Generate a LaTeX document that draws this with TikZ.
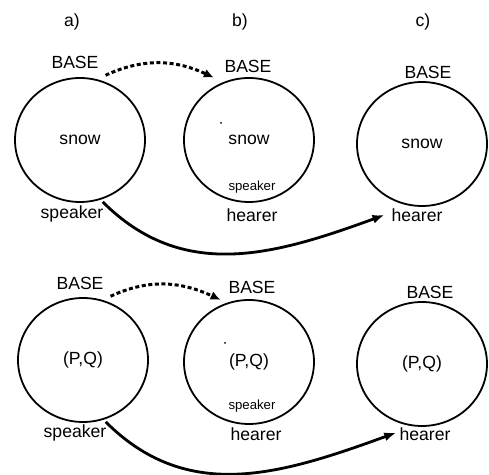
\documentclass[tikz,border=0pt]{standalone}
\usepackage{fontspec}
\setmainfont{Liberation Sans}
\usepackage{tikz}
\usetikzlibrary{arrows.meta, shapes, positioning}
\tikzset{
    contextnode/.style = {draw, ellipse, line width=0.9pt, inner sep = 0em, node distance=0em,
      minimum width=65pt, minimum height=62pt, font=\fontsize{8.8}{10}\selectfont},
    labelnode/.style = {draw=none, fill=none, rectangle, node distance=0em, font=\fontsize{8.8}{10}\selectfont},
    smalllabelnode/.style = {draw=none, fill=none, rectangle, node distance=0em, font=\fontsize{6.6}{8}\selectfont},
    specknode/.style = {fill=black, circle, inner sep=0em, minimum size=1pt, node distance=0em},
    baseconnect/.style = {line width=1.5pt, dash pattern=on 2pt off 1.3pt, -{Latex[length=5pt,width=4.5pt]}},
    transferconnect/.style = {line width=1.4pt, -{Latex[length=6pt,width=4.5pt]}}
}

\begin{document}
\begin{tikzpicture}
\useasboundingbox (-40pt,70pt) rectangle (204.5pt,-167.5pt);
% upper row
\node[contextnode, name=a1] at (0,0) {snow};
\node[contextnode, name=b1, right of = a1, xshift=84.5pt] {snow};
\node[contextnode, name=c1, right of = a1, xshift=171pt, yshift=-2pt] {snow};
\node[labelnode, name=ta, above of = a1, xshift=-4pt, yshift=59pt] {a)};
\node[labelnode, name=tb, above of = b1, xshift=-4.5pt, yshift=59pt] {b)};
\node[labelnode, name=tc, above of = c1, xshift=0.5pt, yshift=61pt] {c)};
\node[labelnode, name=ba1, above of = a1, xshift=-2.5pt, yshift=39pt] {BASE};
\node[labelnode, name=bb1, above of = b1, xshift=-0.5pt, yshift=37pt] {BASE};
\node[labelnode, name=bc1, above of = c1, xshift=3pt, yshift=36pt] {BASE};
\node[labelnode, name=sa1, below of = a1, xshift=-4pt, yshift=-37pt] {speaker};
\node[labelnode, name=hb1, below of = b1, xshift=1.5pt, yshift=-37.5pt] {hearer};
\node[labelnode, name=hc1, below of = c1, xshift=-2.5pt, yshift=-35.5pt] {hearer};
\node[smalllabelnode, name=ib1, below of = b1, xshift=1.5pt, yshift=-23.5pt] {speaker};
\node[specknode, name=db1, left of = b1, xshift=-14pt, yshift=8.5pt] {};
% lower row
\node[contextnode, name=a2, right of = a1, xshift=1.5pt, yshift=-110pt] {(P,Q)};
\node[contextnode, name=b2, right of = a1, xshift=84.5pt, yshift=-111pt] {(P,Q)};
\node[contextnode, name=c2, right of = a1, xshift=171pt, yshift=-112pt] {(P,Q)};
\node[labelnode, name=ba2, above of = a2, xshift=-1.5pt, yshift=38.5pt] {BASE};
\node[labelnode, name=bb2, above of = b2, xshift=1.5pt, yshift=37.5pt] {BASE};
\node[labelnode, name=bc2, above of = c2, xshift=4pt, yshift=36pt] {BASE};
\node[labelnode, name=sa2, below of = a2, xshift=-4pt, yshift=-36.5pt] {speaker};
\node[labelnode, name=hb2, below of = b2, xshift=3.5pt, yshift=-36pt] {hearer};
\node[labelnode, name=hc2, below of = c2, xshift=1.5pt, yshift=-35pt] {hearer};
\node[smalllabelnode, name=ib2, below of = b2, xshift=1.5pt, yshift=-22pt] {speaker};
\node[specknode, name=db2, left of = b2, xshift=-12pt, yshift=9.5pt] {};
% connectors
\draw[baseconnect, shorten >=2pt] (ba1.south east) to[out=25, in=155] (bb1.south west);
\draw[transferconnect, shorten <=1.5pt] (a1.-71) to[out=-45, in=200, looseness=1.05] (hc1.west);
\draw[baseconnect, shorten >=0.5pt] (ba2.south east) to[out=25, in=155] (bb2.south west);
\draw[transferconnect, shorten <=1.5pt, shorten >=-2pt] (a2.-71) to[out=-45, in=200, looseness=1.05] (hc2.west);
\end{tikzpicture}
\end{document}
